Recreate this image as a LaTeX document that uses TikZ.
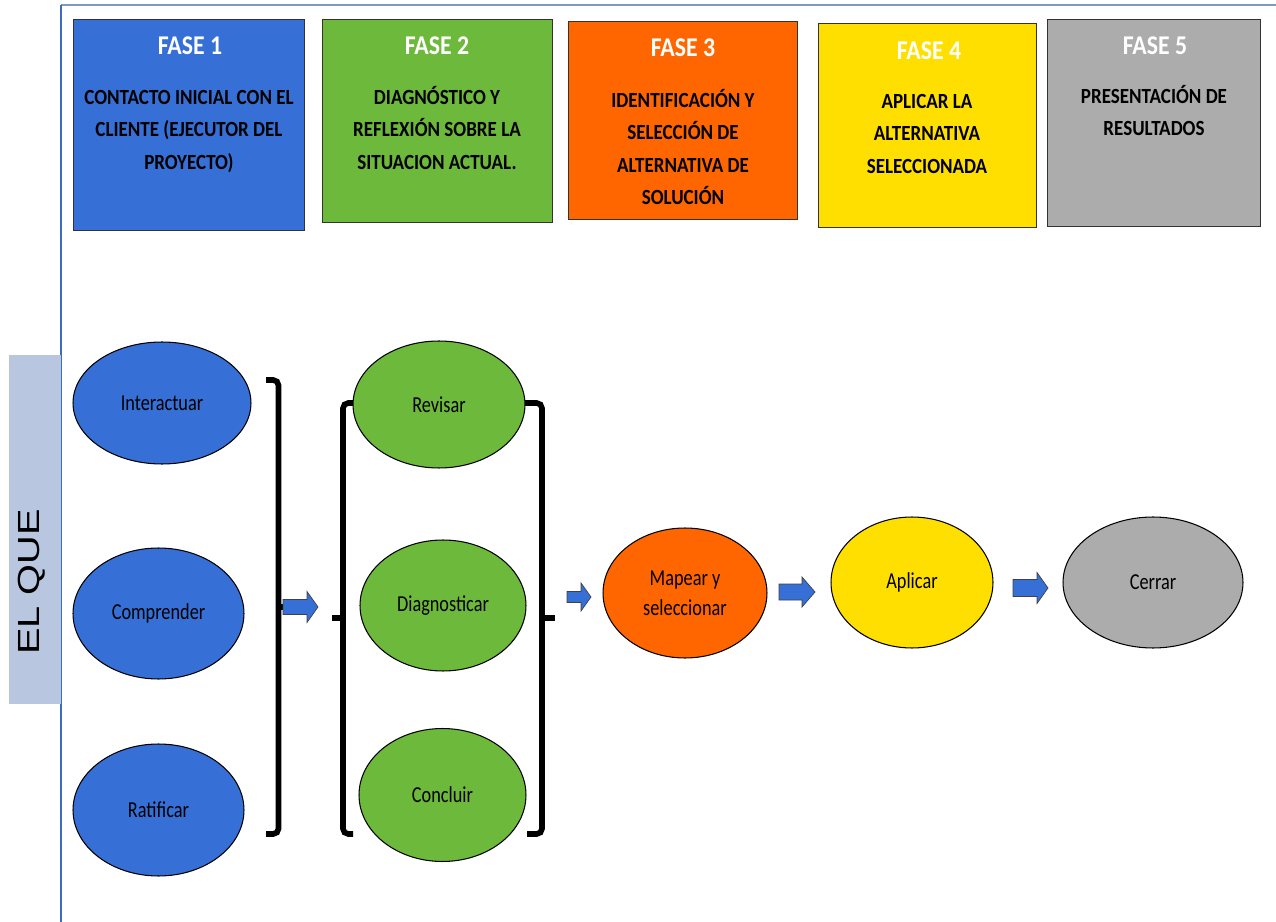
\documentclass[tikz,border=0pt]{standalone}
\usepackage{fontspec}
\setmainfont{Carlito}[FakeStretch=0.88]
\newfontfamily\ovalfont{Carlito}[FakeStretch=0.80]
\newfontfamily\labelfont{Liberation Sans}[FakeStretch=1.3]
\usetikzlibrary{shapes.geometric}

\definecolor{faseblue}{HTML}{3670D6}
\definecolor{fasegreen}{HTML}{6DB93B}
\definecolor{faseorange}{HTML}{FF6600}
\definecolor{faseyellow}{HTML}{FFDF00}
\definecolor{fasegray}{HTML}{ACACAC}
\definecolor{labelbg}{HTML}{B8C7DF}
\definecolor{frametop}{HTML}{8098C4}
\definecolor{frameleft}{HTML}{3E6AC6}

% block arrow: x-start, x-end, y-centre, shaft half-height, head half-height, head length
\newcommand\blockarrow[6]{%
  \filldraw[fill=faseblue, draw=black!75, line width=0.4pt]
    (#1,#3-#4) -- (#2-#6,#3-#4) -- (#2-#6,#3-#5) -- (#2,#3)
    -- (#2-#6,#3+#5) -- (#2-#6,#3+#4) -- (#1,#3+#4) -- cycle;}

\tikzset{
  phasebox/.style={draw=black!80, line width=0.6pt, inner sep=0pt, anchor=north west},
  phasetitle/.style={text=white, font=\bfseries\fontsize{15.4}{19}\selectfont, anchor=base, inner sep=0pt},
  phasebody/.style={font=\bfseries\fontsize{12.3}{18.4}\selectfont, align=center, anchor=north, inner sep=0pt},
  oval/.style={ellipse, draw=black, line width=0.6pt, inner sep=0pt, align=center,
    font=\ovalfont\fontsize{13}{17}\selectfont},
  bracketline/.style={line width=3.2pt, rounded corners=3pt},
}

\begin{document}
\begin{tikzpicture}[x=0.02cm, y=-0.02cm]
\useasboundingbox (0,0) rectangle (1276,922);

% frame
\draw[frametop, line width=1.3pt] (61,5) -- (1276,5);
\draw[frameleft, line width=0.9pt] (61,5) -- (61,922);

% row label
\node[fill=labelbg, minimum width=1.04cm, minimum height=6.98cm, inner sep=0pt, anchor=north west] (elque) at (9,355) {};
\node[rotate=90, inner sep=0pt, font=\labelfont\fontsize{17.4}{20}\selectfont] (elquetext) at (32,582) {EL QUE};

% phase boxes
\node[phasebox, fill=faseblue, minimum width=4.62cm, minimum height=4.22cm] (f1) at (73,19) {};
\node[phasebox, fill=fasegreen, minimum width=4.60cm, minimum height=4.06cm] (f2) at (322,19) {};
\node[phasebox, fill=faseorange, minimum width=4.58cm, minimum height=3.96cm] (f3) at (568,21) {};
\node[phasebox, fill=faseyellow, minimum width=4.36cm, minimum height=4.08cm] (f4) at (818,23) {};
\node[phasebox, fill=fasegray, minimum width=4.26cm, minimum height=4.14cm] (f5) at (1047,19) {};

\node[phasetitle] (t1) at (190,55) {FASE 1};
\node[phasetitle] (t2) at (437,55) {FASE 2};
\node[phasetitle] (t3) at (683,57) {FASE 3};
\node[phasetitle] (t4) at (929,60) {FASE 4};
\node[phasetitle] (t5) at (1155,55) {FASE 5};

\node[phasebody] (b1) at (189,84.7) {\rule{0pt}{11pt}CONTACTO INICIAL CON EL\\CLIENTE (EJECUTOR DEL\\PROYECTO)};
\node[phasebody] (b2) at (437,84.7) {\rule{0pt}{11pt}DIAGNÓSTICO Y\\REFLEXIÓN SOBRE LA\\SITUACION ACTUAL.};
\node[phasebody] (b3) at (683,87.7) {\rule{0pt}{11pt}IDENTIFICACIÓN Y\\SELECCIÓN DE\\ALTERNATIVA DE\\SOLUCIÓN};
\node[phasebody] (b4) at (927,88.7) {\rule{0pt}{11pt}APLICAR LA\\ALTERNATIVA\\SELECCIONADA};
\node[phasebody] (b5) at (1154,83.7) {\rule{0pt}{11pt}PRESENTACIÓN DE\\RESULTADOS};

% brackets grouping the activities
\draw[bracketline] (266,380) -- (278.5,380) -- (278.5,834) -- (266,834);
\draw[line width=3.2pt] (278.5,607) -- (283,607);
\draw[bracketline] (354,403) -- (343,403) -- (343,834) -- (353,834);
\draw[line width=3.2pt] (343,618) -- (332,618);
\draw[bracketline] (524,403) -- (542,403) -- (542,834) -- (527,834);
\draw[line width=3.2pt] (542,618) -- (555,618);

% activities
\node[oval, fill=faseblue, minimum width=3.56cm, minimum height=2.44cm] (interactuar) at (162,403) {Interactuar};
\node[oval, fill=faseblue, minimum width=3.42cm, minimum height=2.62cm] (comprender) at (158.5,613.5) {Comprender};
\node[oval, fill=faseblue, minimum width=3.42cm, minimum height=2.64cm] (ratificar) at (158.5,810) {Ratificar};

\node[oval, fill=fasegreen, minimum width=3.44cm, minimum height=2.54cm] (revisar) at (439,404.5) {Revisar};
\node[oval, fill=fasegreen, minimum width=3.32cm, minimum height=2.62cm] (diagnosticar) at (443,605.5) {Diagnosticar};
\node[oval, fill=fasegreen, minimum width=3.34cm, minimum height=2.66cm] (concluir) at (442.5,795) {Concluir};

\node[oval, fill=faseorange, minimum width=3.28cm, minimum height=2.60cm] (mapear) at (685,593) {Mapear y\\seleccionar};
\node[oval, fill=faseyellow, minimum width=3.24cm, minimum height=2.62cm] (aplicar) at (912,582.5) {Aplicar};
\node[oval, fill=fasegray, minimum width=3.60cm, minimum height=2.62cm] (cerrar) at (1153,582.5) {Cerrar};

% flow arrows
\blockarrow{283}{318}{607}{7.5}{15.5}{11}
\blockarrow{567}{591}{597}{5.5}{14}{10}
\blockarrow{779}{815}{592}{8}{15}{13}
\blockarrow{1013}{1048}{588}{8.5}{15.5}{11}
\end{tikzpicture}
\end{document}
